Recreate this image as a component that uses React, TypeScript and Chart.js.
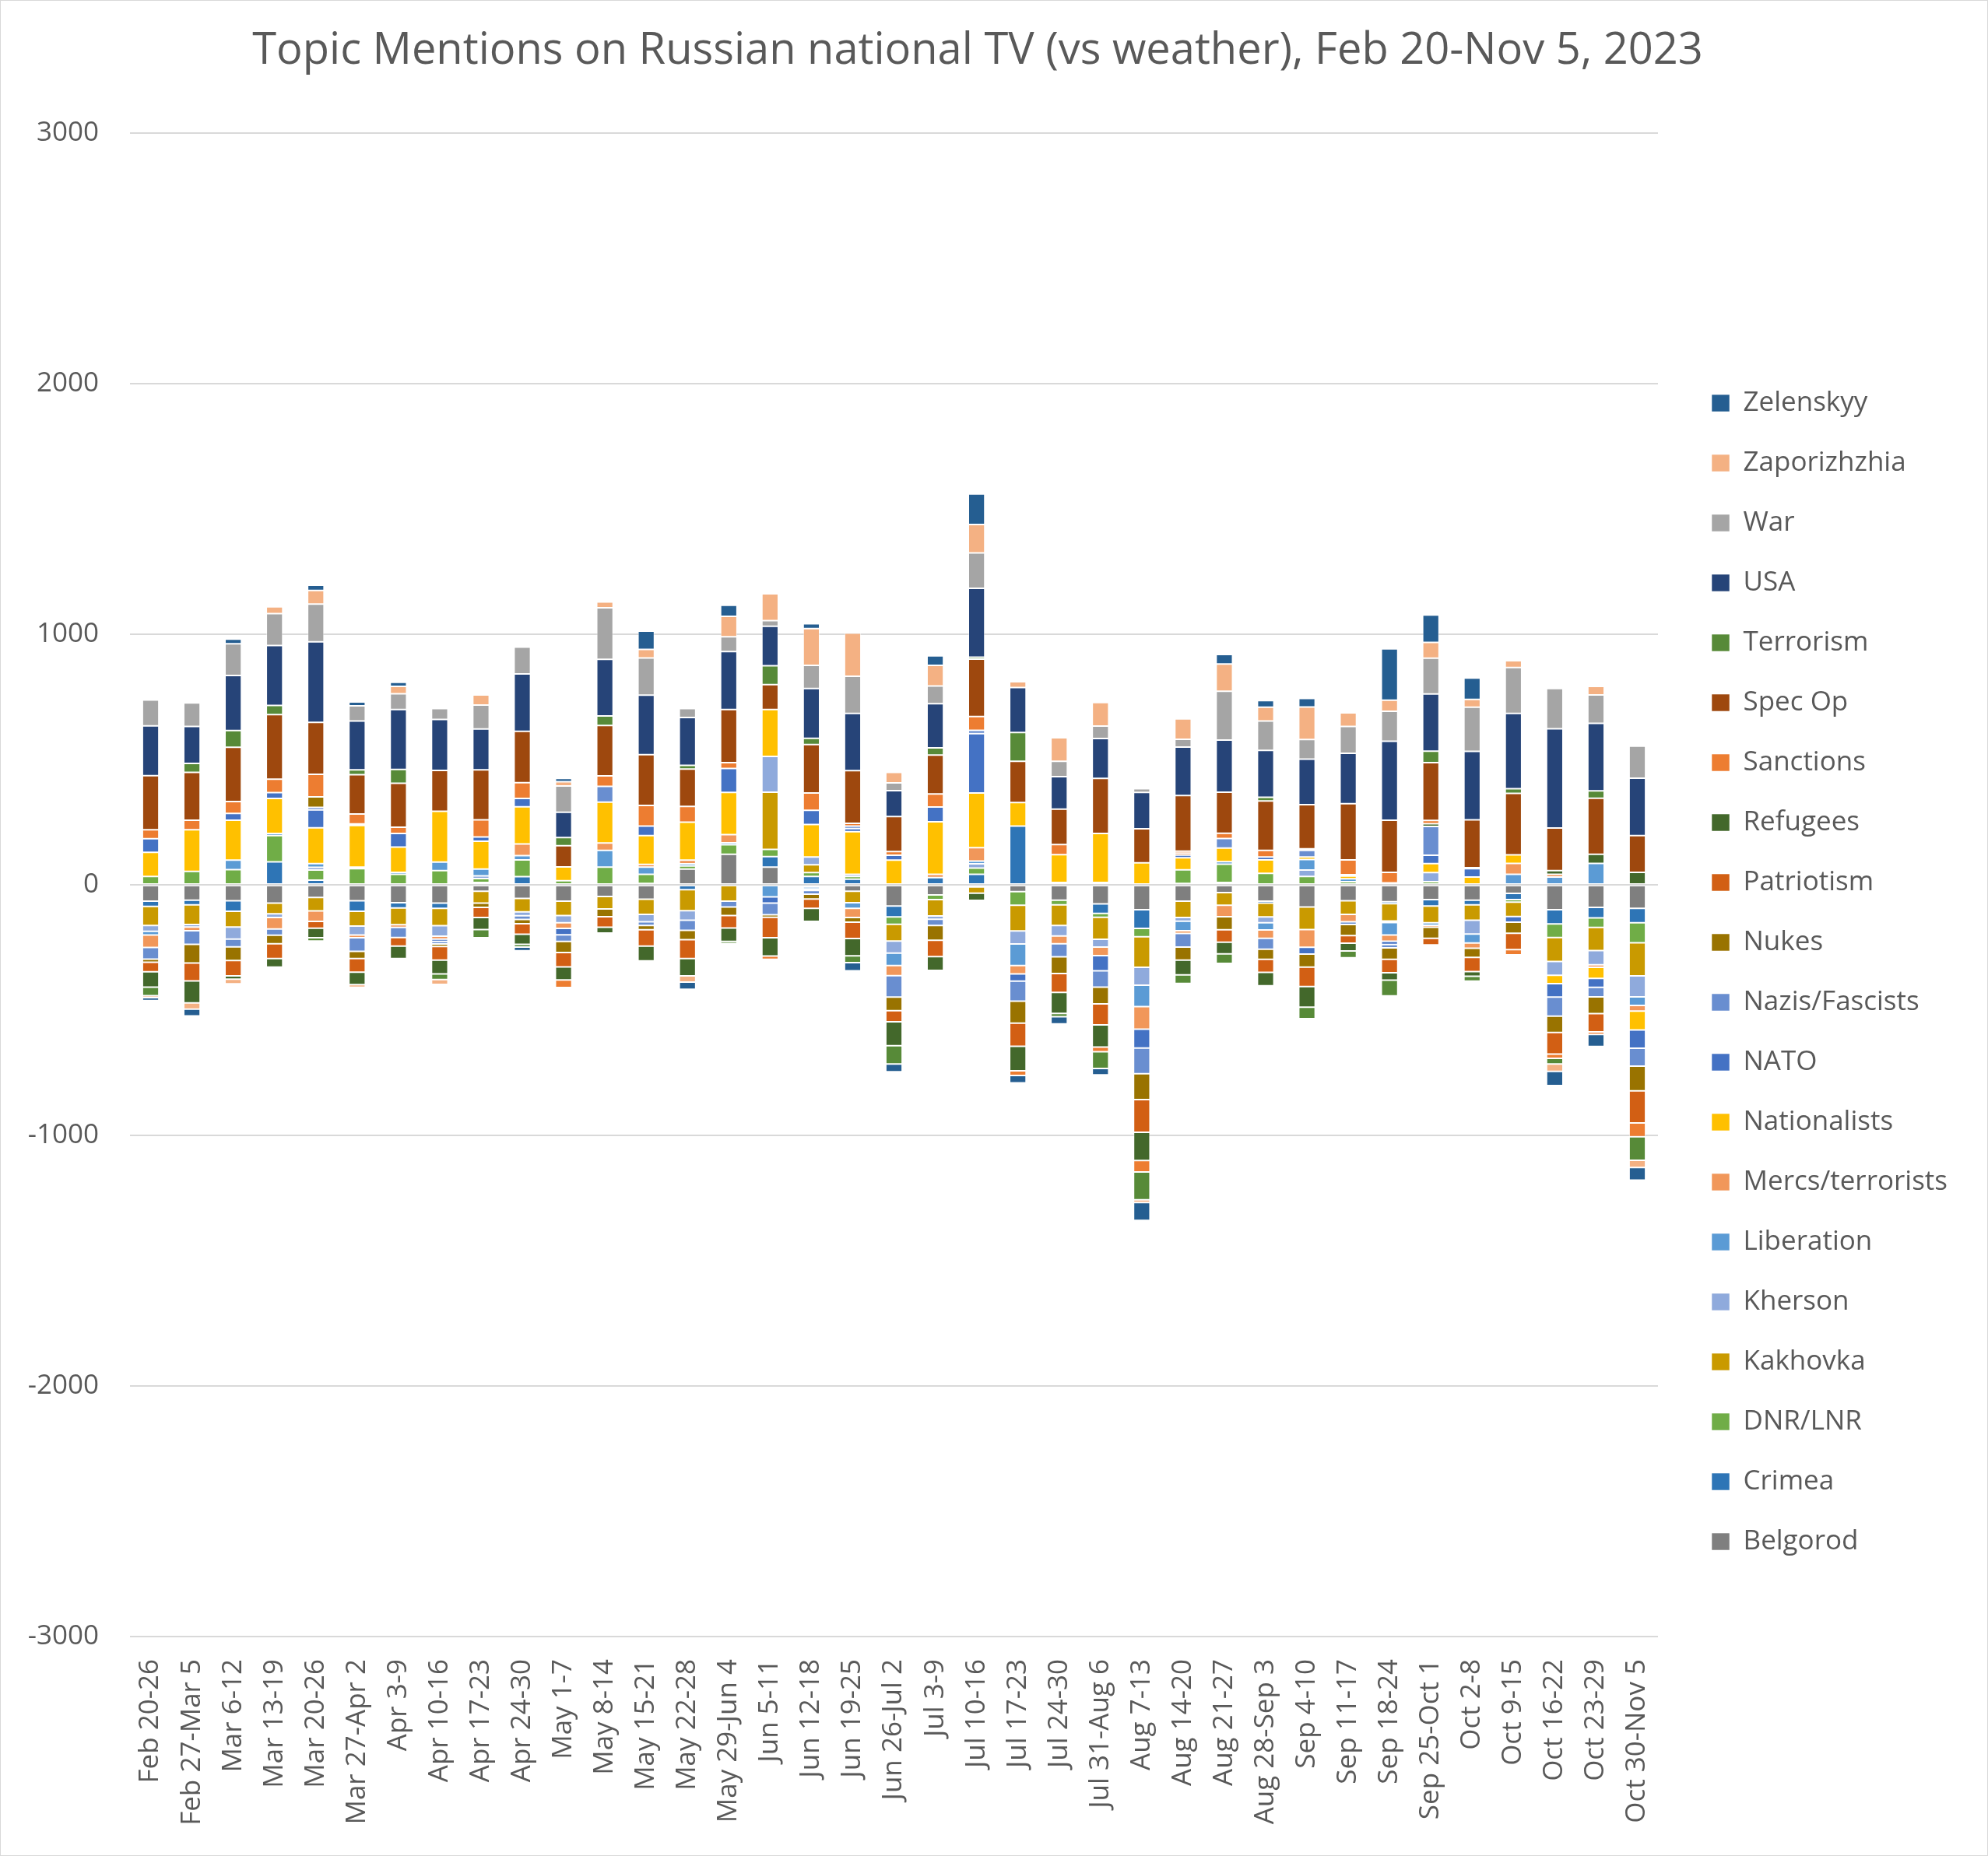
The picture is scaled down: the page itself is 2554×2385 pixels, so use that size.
import React, { useEffect, useRef } from 'react';
import { Chart, registerables } from 'chart.js';

Chart.register(...registerables);

const categories = [
  'Feb 20-26', 'Feb 27-Mar 5', 'Mar 6-12', 'Mar 13-19', 'Mar 20-26', 'Mar 27-Apr 2', 'Apr 3-9',
  'Apr 10-16', 'Apr 17-23', 'Apr 24-30', 'May 1-7', 'May 8-14', 'May 15-21', 'May 22-28',
  'May 29-Jun 4', 'Jun 5-11', 'Jun 12-18', 'Jun 19-25', 'Jun 26-Jul 2', 'Jul 3-9', 'Jul 10-16',
  'Jul 17-23', 'Jul 24-30', 'Jul 31-Aug 6', 'Aug 7-13', 'Aug 14-20', 'Aug 21-27', 'Aug 28-Sep 3',
  'Sep 4-10', 'Sep 11-17', 'Sep 18-24', 'Sep 25-Oct 1', 'Oct 2-8', 'Oct 9-15', 'Oct 16-22',
  'Oct 23-29', 'Oct 30-Nov 5',
];

const belgorod = [-65, -61, -63, -73, -50, -63, -71, -73, -25, -54, -65, -46, -57, 63, 122, 71, -8, -25, -84, -40, -8, -27, -61, -76, -99, -65, -31, -65, -88, -63, -67, -59, -61, -34, -99, -90, -94];
const crimea = [-21, -19, -42, 92, 19, -42, -21, -21, 10, 33, 0, 0, 6, -19, 0, 42, 34, 23, -44, 29, 42, 235, 0, -38, -75, 6, 10, -8, 0, 0, -8, -25, -19, -25, -57, -42, -57];
const dnrLnr = [34, 54, 61, 105, 40, 65, 42, 57, 15, 67, 17, 71, 36, 13, 38, 29, 15, 11, -29, -19, 25, -54, -19, -15, -33, 54, 73, 46, 34, 13, 0, 13, 0, -10, -54, -38, -80];
const kakhovka = [-76, -78, -63, -42, -54, -59, -67, -69, -48, -54, -57, -50, -61, -84, -65, 228, 31, -46, -67, -65, -25, -103, -82, -88, -122, -65, -50, -55, -90, -55, -69, -67, -61, -57, -96, -92, -132];
const kherson = [-23, -10, -48, -15, 11, -36, 0, -42, 11, -15, -29, 0, -29, -38, 0, 143, 31, 8, -48, -13, 17, -52, -42, -31, -71, -15, 0, -23, 25, 0, -6, 36, -55, 0, -55, -57, -84];
const liberation = [-15, 0, 38, 8, 15, 6, 8, 34, 27, 17, 0, 67, 29, 8, 8, -48, -8, -23, -50, 0, 11, -86, 10, 10, -86, -38, 10, -29, 42, 11, -50, -10, -36, 42, 31, 86, -34];
const mercs = [-50, -15, 0, -46, -42, -11, -11, -11, 0, 46, -23, 29, 11, 15, 33, 0, -6, -36, -40, 13, 54, -33, -31, -34, -90, -11, -46, -33, -71, -29, -25, -8, -21, 44, 11, -10, -23];
const nationalists = [96, 166, 159, 140, 143, 166, 101, 203, 111, 149, 55, 163, 115, 151, 168, 187, 130, 170, 99, 210, 218, 94, 111, 195, 88, 48, 54, 54, 10, 11, 8, 36, 31, 34, -33, -44, -75];
const nato = [54, 0, 27, 23, 71, 6, 54, -10, 17, 33, -25, 0, 38, 0, 96, -25, 57, 13, 19, 59, 237, -29, 0, -61, -75, 11, 0, 11, -27, 6, -13, 33, 34, -23, -54, -36, -73];
const nazis = [-46, -54, -31, -25, 10, -54, -40, -10, 0, -15, -27, 63, -15, -40, -23, -46, -15, 10, -86, -25, 13, -80, -52, -65, -103, -54, 38, -44, 27, -11, -13, 115, 0, 0, -76, -38, -71];
const nukes = [-13, -75, -55, -34, 42, -29, 0, -10, -17, -17, -44, -31, -17, -38, -34, -10, -19, -19, -54, -59, 0, -88, -67, -67, -103, -52, -52, -40, -52, -44, -46, -44, -36, -44, -65, -67, -99];
const patriotism = [-38, -71, -61, -59, -27, -54, -34, -54, -40, -42, -57, -42, -65, -75, -50, -82, -38, -65, -44, -65, 0, -92, -75, -84, -130, 8, -50, -52, -78, -31, -54, -27, -57, -65, -86, -73, -128];
const refugees = [-61, -88, -13, -34, -38, -50, -50, -55, -48, -40, -52, -23, -59, -69, -54, -73, -52, -69, -96, -55, -29, -98, -84, -88, -113, -59, -46, -54, -82, -31, -29, 11, -19, 0, 15, 36, 50];
const sanctions = [36, 38, 48, 54, 90, 40, 25, 0, 69, 63, -31, 42, 82, 63, 23, -13, 69, 11, 15, 52, 55, -19, 40, -19, -46, 8, 21, 27, 6, 59, 42, 13, 4, -21, -17, -10, -55];
const specOp = [216, 191, 216, 258, 208, 157, 176, 163, 199, 205, 84, 201, 203, 149, 212, 99, 193, 210, 140, 155, 229, 164, 141, 220, 136, 222, 164, 197, 176, 224, 208, 231, 191, 245, 170, 224, 147];
const terrorism = [-34, 36, 67, 36, -13, 19, 55, -23, -33, -11, 33, 38, -6, 15, -8, 76, 25, -27, -73, 29, 8, 115, -13, -67, -111, -34, -38, 15, -46, -27, -63, 46, -19, 19, -23, 29, -94];
const usa = [199, 147, 220, 239, 321, 195, 239, 203, 163, 229, 101, 226, 237, 191, 231, 157, 199, 228, 103, 176, 275, 180, 130, 159, 145, 193, 208, 187, 182, 201, 315, 228, 273, 300, 396, 270, 229];
const war = [103, 94, 126, 128, 151, 61, 63, 44, 96, 107, 105, 206, 149, 36, 59, 23, 92, 149, 31, 71, 141, 0, 61, 50, 15, 31, 195, 117, 78, 107, 120, 143, 176, 184, 161, 113, 128];
const zaporizhzhia = [-8, -25, -19, 27, 54, -11, 29, -19, 40, 0, 17, 23, 34, -25, 82, 107, 147, 172, 42, 82, 113, 23, 94, 94, -11, 82, 109, 55, 130, 55, 44, 63, 31, 27, -29, 34, -29];
const zelenskyy = [-12, -27, 19, 0, 21, 15, 17, 0, 0, -15, 13, 6, 73, -29, 44, -6, 19, -33, -31, 38, 122, -29, -29, -25, -71, -4, 38, 27, 34, 6, 205, 109, 86, -6, -57, -48, -50];

const seriesNames = [
  'Belgorod', 'Crimea', 'DNR/LNR', 'Kakhovka', 'Kherson', 'Liberation', 'Mercs/terrorists',
  'Nationalists', 'NATO', 'Nazis/Fascists', 'Nukes', 'Patriotism', 'Refugees', 'Sanctions',
  'Spec Op', 'Terrorism', 'USA', 'War', 'Zaporizhzhia', 'Zelenskyy',
];
const seriesValues = [
  belgorod, crimea, dnrLnr, kakhovka, kherson, liberation, mercs, nationalists, nato, nazis,
  nukes, patriotism, refugees, sanctions, specOp, terrorism, usa, war, zaporizhzhia, zelenskyy,
];
const seriesColors = [
  '#7F7F7F', '#2E75B6', '#70AD47', '#C99A00', '#8FAADC', '#5B9BD5', '#F1975A',
  '#FFC000', '#4472C4', '#698ED0', '#997300', '#D25F14', '#43682B', '#ED7D31',
  '#9E480E', '#578A38', '#264478', '#A5A5A5', '#F4B183', '#255E91',
];

const yTickValues = [-3000, -2000, -1000, 0, 1000, 2000, 3000];
const yTickLabels = ['-3000', '-2000', '-1000', '0', '1000', '2000', '3000'];
const titleText = 'Topic Mentions on Russian national TV (vs weather), Feb 20-Nov 5, 2023';

const W = 2554;
const H = 2385;
const FONT = "'Open Sans', 'Noto Sans', sans-serif";
const TEXT = '#595959';

export default function App() {
  const canvasRef = useRef<HTMLCanvasElement | null>(null);

  useEffect(() => {
    document.body.style.margin = '0';
    let chart: Chart | null = null;
    let cancelled = false;
    const make = () => {
      if (cancelled || !canvasRef.current) return;
      chart = new Chart(canvasRef.current, {
        type: 'bar',
        data: {
          labels: categories,
          datasets: seriesNames.map((name, i) => ({
            label: name,
            data: seriesValues[i],
            backgroundColor: seriesColors[i],
            borderColor: 'rgba(255,255,255,0.55)',
            borderWidth: 1,
            borderSkipped: false,
            categoryPercentage: 1,
            barPercentage: 0.4,
          })),
        },
        options: {
          animation: false,
          responsive: false,
          layout: { padding: { left: 0, right: 42, top: 0, bottom: 0 } },
          plugins: {
            title: {
              display: true,
              text: titleText,
              color: TEXT,
              font: { family: FONT, size: 56, weight: 'normal', lineHeight: 1.2 },
              padding: { top: 32, bottom: 72 },
            },
            legend: {
              position: 'right',
              align: 'center',
              reverse: true,
              title: { display: true, text: '', padding: { top: 104, bottom: 0 }, font: { size: 10, lineHeight: 1 } },
              labels: {
                boxWidth: 23,
                boxHeight: 22,
                padding: 42,
                color: TEXT,
                font: { family: FONT, size: 35 },
              },
            },
            tooltip: { enabled: false },
          },
          scales: {
            x: {
              stacked: true,
              grid: { display: false, drawTicks: false },
              border: { display: false },
              ticks: {
                color: TEXT,
                font: { family: FONT, size: 35 },
                minRotation: 90,
                maxRotation: 90,
                autoSkip: false,
                padding: 29,
              },
              afterFit: (s: any) => { s.height = 282; },
            },
            y: {
              stacked: true,
              min: yTickValues[0],
              max: yTickValues[yTickValues.length - 1],
              afterBuildTicks: (s: any) => { s.ticks = yTickValues.map((v) => ({ value: v })); },
              ticks: {
                color: TEXT,
                font: { family: FONT, size: 35 },
                padding: 40,
                callback: (v: any) => {
                  const idx = yTickValues.indexOf(Number(v));
                  return idx >= 0 ? yTickLabels[idx] : String(v);
                },
              },
              grid: { color: '#D9D9D9', lineWidth: 2, drawTicks: false },
              border: { display: false },
              afterFit: (s: any) => { s.width = 167; },
            },
            y2: {
              position: 'right',
              display: true,
              grid: { display: false, drawTicks: false },
              ticks: { display: false },
              border: { display: false },
              afterFit: (s: any) => { s.width = 27; },
            },
          },
        } as any,
      });
    };
    const fontsApi = (document as any).fonts;
    if (fontsApi && fontsApi.load) {
      Promise.all([
        fontsApi.load(`35px 'Open Sans'`),
        fontsApi.load(`56px 'Open Sans'`),
      ]).then(make, make);
    } else {
      make();
    }
    return () => {
      cancelled = true;
      if (chart) chart.destroy();
    };
  }, []);

  return (
    <div style={{ position: 'relative', width: W, height: H, background: '#ffffff' }}>
      <canvas ref={canvasRef} width={W} height={H} style={{ display: 'block', width: W, height: H }} />
      <div
        style={{
          position: 'absolute', left: 0, top: 0, width: W, height: H,
          boxSizing: 'border-box', border: '1px solid #D9D9D9', pointerEvents: 'none',
        }}
      />
    </div>
  );
}
